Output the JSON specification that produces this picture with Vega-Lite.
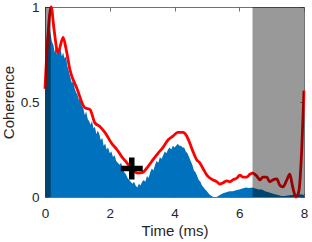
{
  "$schema": "https://vega.github.io/schema/vega-lite/v6.json",
  "width": 259,
  "height": 190,
  "autosize": {"type": "none"},
  "padding": {"left": 45, "top": 7, "right": 8, "bottom": 45},
  "config": {
    "view": {"stroke": null},
    "axis": {
      "grid": false,
      "domainColor": "#4d4d4d",
      "tickColor": "#4d4d4d",
      "domainWidth": 0.8,
      "tickWidth": 0.8,
      "tickSize": -4,
      "labelColor": "#262626",
      "titleColor": "#262626",
      "labelFont": "Liberation Sans",
      "titleFont": "Liberation Sans",
      "labelFontSize": 13.5,
      "titleFontSize": 15,
      "titleFontWeight": "normal",
      "labelFlush": false,
      "labelOverlap": false,
      "format": "~g"
    }
  },
  "datasets": {
    "blue": [
      {"t": 0.00, "c": 0.55}, {"t": 0.04, "c": 0.80}, {"t": 0.08, "c": 0.88}, {"t": 0.12, "c": 0.90},
      {"t": 0.16, "c": 0.87}, {"t": 0.21, "c": 0.82}, {"t": 0.26, "c": 0.80}, {"t": 0.30, "c": 0.76},
      {"t": 0.33, "c": 0.79}, {"t": 0.37, "c": 0.75}, {"t": 0.40, "c": 0.78}, {"t": 0.44, "c": 0.76},
      {"t": 0.48, "c": 0.78}, {"t": 0.52, "c": 0.74}, {"t": 0.56, "c": 0.76}, {"t": 0.60, "c": 0.73},
      {"t": 0.65, "c": 0.74}, {"t": 0.69, "c": 0.69}, {"t": 0.74, "c": 0.66}, {"t": 0.78, "c": 0.63},
      {"t": 0.83, "c": 0.60}, {"t": 0.87, "c": 0.61}, {"t": 0.92, "c": 0.57}, {"t": 0.96, "c": 0.55},
      {"t": 1.00, "c": 0.54}, {"t": 1.05, "c": 0.51}, {"t": 1.09, "c": 0.52}, {"t": 1.14, "c": 0.48},
      {"t": 1.18, "c": 0.47}, {"t": 1.23, "c": 0.43}, {"t": 1.27, "c": 0.45}, {"t": 1.32, "c": 0.41},
      {"t": 1.36, "c": 0.40}, {"t": 1.41, "c": 0.38}, {"t": 1.45, "c": 0.40}, {"t": 1.50, "c": 0.36},
      {"t": 1.54, "c": 0.37}, {"t": 1.59, "c": 0.33}, {"t": 1.63, "c": 0.35}, {"t": 1.68, "c": 0.33},
      {"t": 1.72, "c": 0.30}, {"t": 1.77, "c": 0.31}, {"t": 1.81, "c": 0.27}, {"t": 1.86, "c": 0.28},
      {"t": 1.90, "c": 0.25}, {"t": 1.95, "c": 0.26}, {"t": 2.00, "c": 0.23}, {"t": 2.05, "c": 0.24},
      {"t": 2.10, "c": 0.21}, {"t": 2.15, "c": 0.22}, {"t": 2.20, "c": 0.19}, {"t": 2.25, "c": 0.18},
      {"t": 2.30, "c": 0.17}, {"t": 2.35, "c": 0.18}, {"t": 2.40, "c": 0.15}, {"t": 2.45, "c": 0.13},
      {"t": 2.50, "c": 0.12}, {"t": 2.55, "c": 0.10}, {"t": 2.60, "c": 0.09}, {"t": 2.65, "c": 0.08},
      {"t": 2.70, "c": 0.07}, {"t": 2.75, "c": 0.08}, {"t": 2.80, "c": 0.06}, {"t": 2.85, "c": 0.05},
      {"t": 2.90, "c": 0.07}, {"t": 2.95, "c": 0.06}, {"t": 3.00, "c": 0.08}, {"t": 3.05, "c": 0.09},
      {"t": 3.10, "c": 0.08}, {"t": 3.15, "c": 0.11}, {"t": 3.20, "c": 0.10}, {"t": 3.25, "c": 0.13},
      {"t": 3.30, "c": 0.15}, {"t": 3.35, "c": 0.14}, {"t": 3.40, "c": 0.17}, {"t": 3.45, "c": 0.19},
      {"t": 3.50, "c": 0.18}, {"t": 3.55, "c": 0.21}, {"t": 3.60, "c": 0.20}, {"t": 3.65, "c": 0.22},
      {"t": 3.70, "c": 0.24}, {"t": 3.75, "c": 0.23}, {"t": 3.80, "c": 0.25}, {"t": 3.85, "c": 0.26},
      {"t": 3.90, "c": 0.25}, {"t": 3.95, "c": 0.27}, {"t": 4.00, "c": 0.26}, {"t": 4.05, "c": 0.27},
      {"t": 4.10, "c": 0.28}, {"t": 4.15, "c": 0.27}, {"t": 4.20, "c": 0.27}, {"t": 4.25, "c": 0.26},
      {"t": 4.30, "c": 0.26}, {"t": 4.35, "c": 0.24}, {"t": 4.40, "c": 0.23}, {"t": 4.45, "c": 0.21},
      {"t": 4.50, "c": 0.19}, {"t": 4.55, "c": 0.17}, {"t": 4.60, "c": 0.14}, {"t": 4.65, "c": 0.13},
      {"t": 4.70, "c": 0.11}, {"t": 4.75, "c": 0.09}, {"t": 4.80, "c": 0.08}, {"t": 4.85, "c": 0.06},
      {"t": 4.90, "c": 0.05}, {"t": 4.95, "c": 0.04}, {"t": 5.00, "c": 0.03}, {"t": 5.05, "c": 0.02},
      {"t": 5.10, "c": 0.01}, {"t": 5.20, "c": 0.00}, {"t": 5.30, "c": 0.00}, {"t": 5.40, "c": 0.01},
      {"t": 5.50, "c": 0.02}, {"t": 5.60, "c": 0.025}, {"t": 5.70, "c": 0.03}, {"t": 5.80, "c": 0.03},
      {"t": 5.90, "c": 0.035}, {"t": 6.00, "c": 0.04}, {"t": 6.10, "c": 0.045}, {"t": 6.20, "c": 0.05},
      {"t": 6.30, "c": 0.047}, {"t": 6.40, "c": 0.05}, {"t": 6.50, "c": 0.045}, {"t": 6.60, "c": 0.04},
      {"t": 6.70, "c": 0.04}, {"t": 6.80, "c": 0.03}, {"t": 6.90, "c": 0.025}, {"t": 7.00, "c": 0.02},
      {"t": 7.10, "c": 0.015}, {"t": 7.20, "c": 0.01}, {"t": 7.30, "c": 0.005}, {"t": 7.40, "c": 0.005},
      {"t": 7.50, "c": 0.008}, {"t": 7.60, "c": 0.01}, {"t": 7.70, "c": 0.012}, {"t": 7.80, "c": 0.015},
      {"t": 7.90, "c": 0.015}, {"t": 8.00, "c": 0.01}
    ],
    "red": [
      {"t": 0.00, "c": 0.57}, {"t": 0.09, "c": 0.85}, {"t": 0.19, "c": 1.0}, {"t": 0.28, "c": 0.88},
      {"t": 0.40, "c": 0.76}, {"t": 0.56, "c": 0.84}, {"t": 0.65, "c": 0.78}, {"t": 0.77, "c": 0.67},
      {"t": 0.99, "c": 0.57}, {"t": 1.23, "c": 0.47}, {"t": 1.39, "c": 0.46}, {"t": 1.54, "c": 0.39},
      {"t": 1.70, "c": 0.37}, {"t": 1.85, "c": 0.34}, {"t": 2.07, "c": 0.28}, {"t": 2.22, "c": 0.25},
      {"t": 2.38, "c": 0.21}, {"t": 2.53, "c": 0.18}, {"t": 2.72, "c": 0.14}, {"t": 2.87, "c": 0.126},
      {"t": 3.02, "c": 0.13}, {"t": 3.18, "c": 0.16}, {"t": 3.33, "c": 0.195}, {"t": 3.49, "c": 0.23},
      {"t": 3.64, "c": 0.26}, {"t": 3.80, "c": 0.30}, {"t": 3.95, "c": 0.32}, {"t": 4.10, "c": 0.34},
      {"t": 4.26, "c": 0.34}, {"t": 4.38, "c": 0.32}, {"t": 4.48, "c": 0.28}, {"t": 4.57, "c": 0.24},
      {"t": 4.69, "c": 0.195}, {"t": 4.78, "c": 0.18}, {"t": 4.88, "c": 0.15}, {"t": 5.00, "c": 0.115},
      {"t": 5.09, "c": 0.10}, {"t": 5.19, "c": 0.09}, {"t": 5.31, "c": 0.08}, {"t": 5.40, "c": 0.068},
      {"t": 5.49, "c": 0.074}, {"t": 5.62, "c": 0.085}, {"t": 5.71, "c": 0.08}, {"t": 5.80, "c": 0.09},
      {"t": 5.93, "c": 0.10}, {"t": 6.02, "c": 0.115}, {"t": 6.11, "c": 0.105}, {"t": 6.23, "c": 0.105},
      {"t": 6.33, "c": 0.12}, {"t": 6.42, "c": 0.126}, {"t": 6.54, "c": 0.11}, {"t": 6.64, "c": 0.09},
      {"t": 6.73, "c": 0.105}, {"t": 6.85, "c": 0.105}, {"t": 6.94, "c": 0.08}, {"t": 7.04, "c": 0.09},
      {"t": 7.16, "c": 0.095}, {"t": 7.25, "c": 0.063}, {"t": 7.35, "c": 0.053}, {"t": 7.47, "c": 0.09},
      {"t": 7.56, "c": 0.12}, {"t": 7.65, "c": 0.053}, {"t": 7.75, "c": 0.0}, {"t": 7.84, "c": 0.03},
      {"t": 7.93, "c": 0.25}, {"t": 8.00, "c": 0.56}
    ],
    "shade": [
      {"x0": 0, "x1": 0.18},
      {"x0": 6.41, "x1": 8}
    ],
    "marker": [
      {"t": 2.68, "c": 0.15}
    ]
  },
  "layer": [
    {
      "data": {"name": "blue"},
      "mark": {"type": "area", "color": "#0072BD", "opacity": 1, "clip": true},
      "encoding": {
        "x": {"field": "t", "type": "quantitative", "scale": {"domain": [0, 8], "nice": false},
              "axis": {"orient": "bottom", "values": [0, 2, 4, 6, 8], "title": "Time (ms)", "labelPadding": 13, "titlePadding": 4}},
        "y": {"field": "c", "type": "quantitative", "scale": {"domain": [0, 1], "nice": false},
              "axis": {"orient": "left", "values": [0, 0.5, 1], "title": "Coherence", "labelPadding": 10, "titlePadding": 4}}
      }
    },
    {
      "data": {"name": "red"},
      "mark": {"type": "line", "color": "#FF0000", "strokeWidth": 2.8, "strokeJoin": "round", "interpolate": "monotone", "clip": false},
      "encoding": {
        "x": {"field": "t", "type": "quantitative",
              "axis": {"orient": "top", "values": [0, 2, 4, 6, 8], "labels": false, "title": null}},
        "y": {"field": "c", "type": "quantitative",
              "axis": {"orient": "right", "values": [0, 0.5, 1], "labels": false, "title": null}}
      }
    },
    {
      "data": {"name": "shade"},
      "mark": {"type": "rect", "color": "#000000", "opacity": 0.4},
      "encoding": {
        "x": {"field": "x0", "type": "quantitative", "axis": null},
        "x2": {"field": "x1"}
      }
    },
    {
      "data": {"name": "marker"},
      "mark": {"type": "point", "shape": "M-1,0L1,0M0,-1L0,1", "stroke": "#000000", "strokeWidth": 5.5, "size": 484, "filled": false, "opacity": 1},
      "encoding": {
        "x": {"field": "t", "type": "quantitative", "axis": null},
        "y": {"field": "c", "type": "quantitative", "axis": null}
      }
    }
  ],
  "resolve": {"axis": {"x": "independent", "y": "independent"}}
}
